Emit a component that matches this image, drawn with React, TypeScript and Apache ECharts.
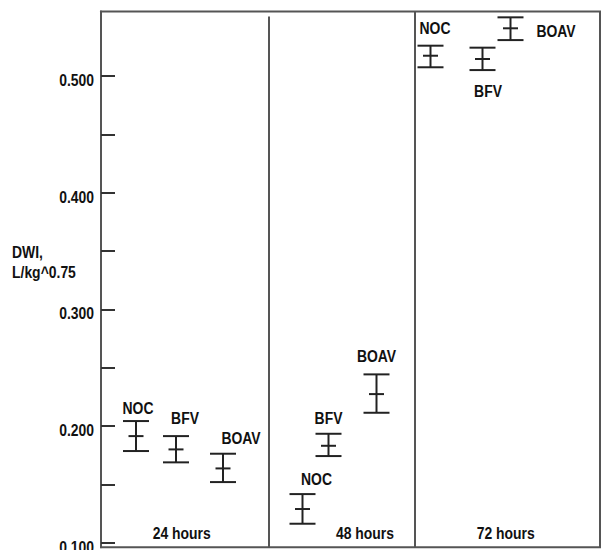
import React, { useEffect, useRef } from "react";
import * as echarts from "echarts";

// ---- data ----
const groups = ["24 hours", "48 hours", "72 hours"];
const treatments = ["NOC", "BFV", "BOAV"];
const means = [
  [0.1914, 0.18, 0.1637],
  [0.1289, 0.1831, 0.2274],
  [0.5174, 0.5146, 0.5409],
];
const upper = [
  [0.2043, 0.1914, 0.1763],
  [0.1417, 0.1934, 0.2443],
  [0.526, 0.5243, 0.5503],
];
const lower = [
  [0.1786, 0.1689, 0.152],
  [0.1163, 0.1743, 0.2114],
  [0.5075, 0.5051, 0.5308],
];
// horizontal placement of each error bar within the panel strip (x units)
const xPos = [
  [35, 75, 122],
  [201.5, 227.5, 275.5],
  [329.5, 381.5, 409.5],
];
const panelDividers = [168, 314];
const groupLabelX = [80.7, 264, 404.7];
const yTicks = [0.1, 0.15, 0.2, 0.25, 0.3, 0.35, 0.4, 0.45, 0.5];
const yTickLabels = [0.1, 0.2, 0.3, 0.4, 0.5];

// ---- layout (pixel offsets of labels from the mean point) ----
const labelOffsets = [
  [[2, -28], [9, -31.6], [18, -30.3]],
  [[14, -30], [0, -27.7], [0, -38]],
  [[4.5, -27.7], [5.5, 31.7], [45.5, 2.7]],
];
const dividerTopGap = [5, 0];

const FONT_FAMILY = "'Liberation Sans',Arial,sans-serif";
const FONT = `bold 17px ${FONT_FAMILY}`;
const NARROW = 0.82;
const TEXT_COLOR = "#111";
const BAR_COLOR = "#222";
const FRAME_COLOR = "#555";

function narrowText(text: string, x: number, y: number, align: string) {
  return {
    type: "text",
    x,
    y,
    scaleX: NARROW,
    style: {
      text,
      x: 0,
      y: 0,
      align,
      verticalAlign: "middle",
      font: FONT,
      fill: TEXT_COLOR,
    },
  };
}

export default function App() {
  const ref = useRef<HTMLDivElement>(null);

  useEffect(() => {
    if (!ref.current) return;
    const chart = echarts.init(ref.current, undefined, { renderer: "svg" });

    const barData: any[] = [];
    groups.forEach((g, gi) => {
      treatments.forEach((t, ti) => {
        barData.push([xPos[gi][ti], lower[gi][ti], means[gi][ti], upper[gi][ti], gi, ti]);
      });
    });

    const option: any = {
      animation: false,
      grid: {
        left: 101,
        right: 3,
        top: 11.5,
        bottom: 2.7,
        show: true,
        borderColor: FRAME_COLOR,
        borderWidth: 2,
        backgroundColor: "transparent",
      },
      xAxis: { type: "value", min: 0, max: 499, show: false },
      yAxis: {
        type: "value",
        min: 0.0961,
        max: 0.5553,
        axisLine: { show: true, lineStyle: { color: FRAME_COLOR, width: 2 } },
        axisTick: {
          show: true,
          inside: true,
          length: 14,
          customValues: yTicks,
          lineStyle: { color: "#333", width: 2 },
        },
        axisLabel: { show: false },
        splitLine: { show: false },
      },
      graphic: [
        {
          type: "text",
          x: 12,
          y: 242,
          scaleX: NARROW,
          style: {
            text: "DWI,\nL/kg^0.75",
            font: FONT,
            lineHeight: 20,
            fill: TEXT_COLOR,
          },
        },
      ],
      series: [
        {
          type: "custom",
          clip: false,
          data: yTickLabels.map((v) => [0, v]),
          renderItem: (params: any, api: any) => {
            const v = api.value(1);
            const p = api.coord([0, v]);
            return narrowText(v.toFixed(3), params.coordSys.x - 7, p[1] + 4, "right");
          },
        },
        {
          type: "custom",
          clip: false,
          data: panelDividers.map((x, i) => [x, i]),
          renderItem: (params: any, api: any) => {
            const x = api.value(0);
            const i = api.value(1);
            const cs = params.coordSys;
            const p = api.coord([x, 0.3]);
            return {
              type: "line",
              shape: { x1: p[0], y1: cs.y + dividerTopGap[i], x2: p[0], y2: cs.y + cs.height },
              style: { stroke: FRAME_COLOR, lineWidth: 2 },
            };
          },
        },
        {
          type: "custom",
          clip: false,
          data: groupLabelX.map((x, i) => [x, i]),
          renderItem: (params: any, api: any) => {
            const x = api.value(0);
            const i = api.value(1);
            const cs = params.coordSys;
            const p = api.coord([x, 0.3]);
            return narrowText(groups[i], p[0], cs.y + cs.height - 14, "center");
          },
        },
        {
          type: "custom",
          clip: false,
          data: barData,
          renderItem: (params: any, api: any) => {
            const x = api.value(0);
            const lo = api.coord([x, api.value(1)]);
            const mid = api.coord([x, api.value(2)]);
            const hi = api.coord([x, api.value(3)]);
            const gi = api.value(4);
            const ti = api.value(5);
            const cap = 13;
            const tick = 7.5;
            const ls = { stroke: BAR_COLOR, lineWidth: 2 };
            const off = labelOffsets[gi][ti];
            return {
              type: "group",
              children: [
                { type: "line", shape: { x1: hi[0], y1: hi[1], x2: lo[0], y2: lo[1] }, style: ls },
                { type: "line", shape: { x1: hi[0] - cap, y1: hi[1], x2: hi[0] + cap, y2: hi[1] }, style: ls },
                { type: "line", shape: { x1: lo[0] - cap, y1: lo[1], x2: lo[0] + cap, y2: lo[1] }, style: ls },
                { type: "line", shape: { x1: mid[0] - tick, y1: mid[1], x2: mid[0] + tick, y2: mid[1] }, style: ls },
                narrowText(treatments[ti], mid[0] + off[0], mid[1] + off[1], "center"),
              ],
            };
          },
        },
      ],
    };

    chart.setOption(option);
    return () => chart.dispose();
  }, []);

  return (
    <div
      ref={ref}
      style={{ position: "fixed", left: 0, top: 0, width: 603, height: 550, background: "#fff" }}
    />
  );
}
